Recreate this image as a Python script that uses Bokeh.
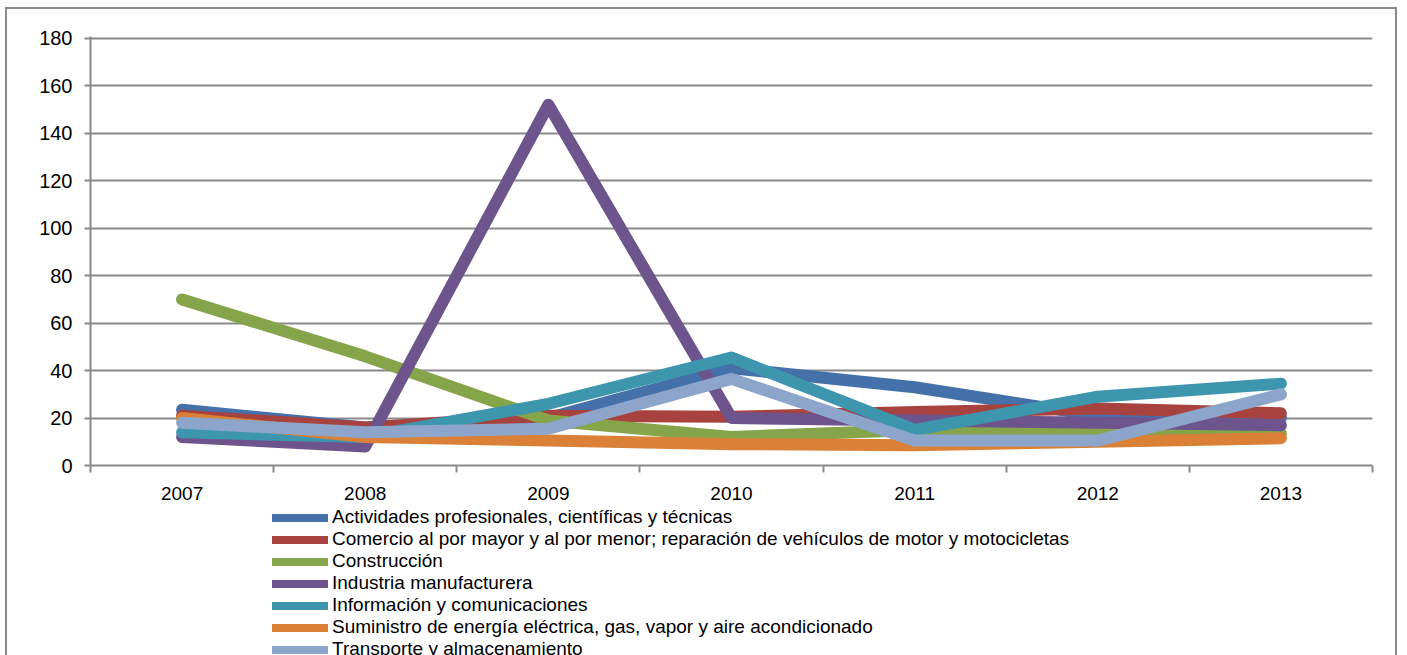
from bokeh.plotting import figure
from bokeh.layouts import column
from bokeh.models import Range1d, FixedTicker, Legend, LegendItem, ColumnDataSource
from bokeh.embed import file_html
from bokeh.resources import INLINE

# Years on the category axis
years = ["2007", "2008", "2009", "2010", "2011", "2012", "2013"]

# Series values by sector
actividades = [23.5, 16, 20, 41, 33, 21, 20]
comercio = [21, 16, 21, 20.5, 22.5, 24, 22]
construccion = [70, 46, 19, 12, 15, 14, 13.5]
industria = [12, 8, 152, 20, 19, 18, 17]
informacion = [14, 12, 26, 45.5, 15, 29, 34.5]
suministro = [20, 12, 10.5, 9, 8.5, 10, 11.5]
transporte = [18, 14, 15.5, 36.5, 10.5, 10.5, 30]

y_ticks = [0, 20, 40, 60, 80, 100, 120, 140, 160, 180]

series = [
    ("Actividades profesionales, científicas y técnicas", actividades, "#4571AA"),
    ("Comercio al por mayor y al por menor; reparación de vehículos de motor y motocicletas", comercio, "#A8423F"),
    ("Construcción", construccion, "#86A44A"),
    ("Industria manufacturera", industria, "#6E548D"),
    ("Información y comunicaciones", informacion, "#3D96AE"),
    ("Suministro de energía eléctrica, gas, vapor y aire acondicionado", suministro, "#DA8137"),
    ("Transporte y almacenamiento", transporte, "#8EA5CB"),
]

FONT = "Liberation Sans"
GRAY = "#8A8A8A"
INNER_W = 1388

# ---- line chart -------------------------------------------------------------
p = figure(width=INNER_W, height=493, output_backend="svg", toolbar_location=None,
           x_range=Range1d(0, len(years)), y_range=Range1d(0, 180.8),
           min_border_left=83, min_border_right=23, min_border_top=27,
           min_border_bottom=37)
p.outline_line_color = None
p.background_fill_color = "white"
p.border_fill_color = "white"

# category centres for the data, category boundaries for the tick marks
xpos = [i + 0.5 for i in range(len(years))]

# x axis: labels at category centres, tick marks on the boundaries
p.xaxis.ticker = FixedTicker(ticks=xpos, minor_ticks=list(range(len(years) + 1)))
p.xaxis.major_label_overrides = {x: y for x, y in zip(xpos, years)}
p.xaxis.major_tick_out = 0
p.xaxis.major_tick_in = 0
p.xaxis.minor_tick_out = 7
p.xaxis.minor_tick_in = 0
p.xaxis.minor_tick_line_color = GRAY
p.xaxis.minor_tick_line_width = 2
p.xaxis.major_label_standoff = 14
p.xaxis.major_label_text_font_size = "19px"

# y axis
p.yaxis.ticker = FixedTicker(ticks=y_ticks)
p.yaxis.major_tick_out = 6
p.yaxis.major_tick_in = 0
p.yaxis.major_tick_line_color = GRAY
p.yaxis.major_tick_line_width = 2
p.yaxis.minor_tick_line_color = None
p.yaxis.major_label_standoff = 12
p.yaxis.major_label_text_font_size = "20px"

for ax in (p.xaxis, p.yaxis):
    ax.axis_line_color = GRAY
    ax.axis_line_width = 2
    ax.major_label_text_font = FONT
    ax.major_label_text_color = "black"

p.xgrid.grid_line_color = None
p.ygrid.ticker = FixedTicker(ticks=y_ticks)
p.ygrid.grid_line_color = GRAY
p.ygrid.grid_line_width = 2

for name, vals, color in series:
    src = ColumnDataSource(dict(x=xpos, y=vals))
    p.line("x", "y", source=src, line_color=color, line_width=12,
           line_cap="round", line_join="round")

# ---- legend strip below the chart -------------------------------------------
# the series are drawn here too, but outside the visible range: only their
# legend swatches show
leg = figure(width=INNER_W, height=153, output_backend="svg", toolbar_location=None,
             x_range=Range1d(100, 101), y_range=Range1d(1000, 1001),
             min_border=0, x_axis_location=None, y_axis_location=None)
leg.outline_line_color = None
leg.xgrid.visible = False
leg.ygrid.visible = False

items = []
for name, vals, color in series:
    sw = leg.line(x=xpos, y=vals, line_color=color, line_width=8, line_cap="round")
    items.append(LegendItem(label=name, renderers=[sw]))

legend = Legend(items=items, location=(182, -5), orientation="vertical",
                label_text_font=FONT, label_text_font_size="19px",
                label_text_color="black", glyph_width=56, glyph_height=21,
                label_height=21, label_standoff=4, spacing=0, padding=0,
                margin=0, border_line_color=None, background_fill_alpha=0)
leg.add_layout(legend, "center")

page = column(p, leg, spacing=0,
              styles={"margin-left": "5px", "margin-top": "7px",
                      "border": "2px solid #8A8A8A", "border-bottom": "none",
                      "background-color": "white"})

open("out.html", "w").write(file_html(page, INLINE))
